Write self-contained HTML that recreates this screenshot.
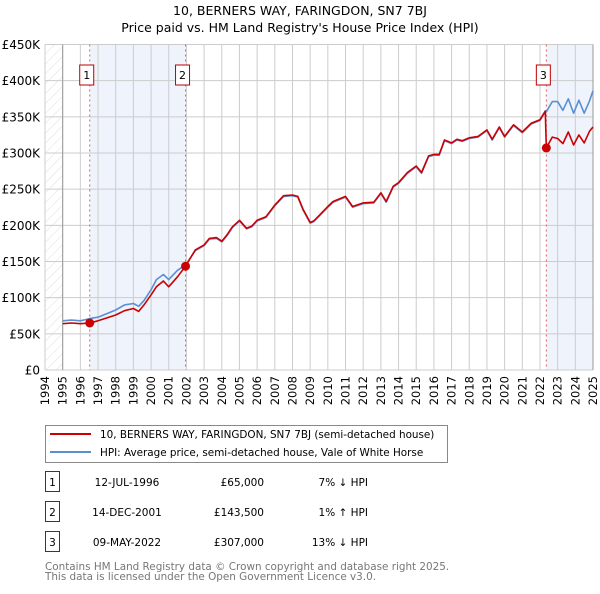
<!DOCTYPE html>
<html><head><meta charset="utf-8">
<style>
body{margin:0;background:#fff;font-family:"DejaVu Sans","Liberation Sans",sans-serif;}
svg text{font-family:"DejaVu Sans","Liberation Sans",sans-serif;}
</style></head>
<body>
<svg id="chart" width="600" height="590" xmlns="http://www.w3.org/2000/svg">
<defs><pattern id="hatch" width="7" height="7" patternUnits="userSpaceOnUse" patternTransform="rotate(45)"><line x1="0" y1="0" x2="0" y2="7" stroke="#ddd" stroke-width="1"/></pattern></defs>
<text x="300" y="15" text-anchor="middle" font-size="12.5">10, BERNERS WAY, FARINGDON, SN7 7BJ</text>
<text x="300" y="32" text-anchor="middle" font-size="12.5">Price paid vs. HM Land Registry's House Price Index (HPI)</text>
<g id="plot"></g>
<g>
<rect x="45.5" y="425.5" width="402" height="37" fill="#fff" stroke="#888"/>
<line x1="50" y1="434" x2="91" y2="434" stroke="#cc0000" stroke-width="2"/>
<text x="100" y="438" font-size="10.4">10, BERNERS WAY, FARINGDON, SN7 7BJ (semi-detached house)</text>
<line x1="50" y1="452" x2="91" y2="452" stroke="#5b8fd4" stroke-width="2"/>
<text x="100" y="456" font-size="10.4">HPI: Average price, semi-detached house, Vale of White Horse</text>
</g>
<g id="table" font-size="10.5"></g>
<text x="45" y="570" font-size="10.4" fill="#777">Contains HM Land Registry data © Crown copyright and database right 2025.</text>
<text x="45" y="580" font-size="10.4" fill="#777">This data is licensed under the Open Government Licence v3.0.</text>
</svg>
<script>
const years=[1995,1995.5,1996,1996.53,1997,1997.5,1998,1998.5,1999,1999.3,1999.6,2000,2000.3,2000.7,2001,2001.5,2001.95,2002.5,2003,2003.3,2003.7,2004,2004.3,2004.6,2005,2005.4,2005.7,2006,2006.5,2007,2007.5,2008,2008.3,2008.6,2009,2009.2,2009.6,2010,2010.3,2011,2011.4,2012,2012.6,2013,2013.3,2013.7,2014,2014.5,2015,2015.3,2015.7,2016,2016.3,2016.6,2017,2017.3,2017.6,2018,2018.5,2019,2019.3,2019.7,2020,2020.5,2021,2021.5,2022,2022.3,2022.36,2022.7,2023,2023.3,2023.6,2023.9,2024.2,2024.5,2024.8,2025];
const hpi=[68000,69000,68000,71000,73000,78000,83000,90000,92000,88000,96000,111000,125000,132000,125000,138000,145000,165000,172000,181000,182000,177000,186000,197000,206000,195000,198000,206000,211000,227000,240000,241000,239000,221000,203000,205000,215000,225000,232000,239000,225000,230000,231000,244000,232000,253000,258000,272000,281000,272000,295000,297000,297000,317000,313000,318000,316000,320000,322000,331000,318000,335000,322000,338000,328000,340000,345000,357000,357000,371000,371000,359000,375000,355000,373000,355000,372000,386000];
const price=[64000,65000,64000,65000,68000,72000,76000,82000,85000,81000,90000,104000,115000,123000,115000,129000,143500,166000,173000,182000,183000,178000,187000,198000,207000,196000,199000,207000,212000,228000,241000,242000,240000,222000,204000,206000,216000,226000,233000,240000,226000,231000,232000,245000,233000,254000,259000,273000,282000,273000,296000,298000,298000,318000,314000,319000,317000,321000,323000,332000,319000,336000,323000,339000,329000,341000,346000,358000,307000,322000,320000,313000,329000,311000,325000,314000,330000,336000];
const yTicks=[0,50000,100000,150000,200000,250000,300000,350000,400000,450000];
const yTickLabels=["£0","£50K","£100K","£150K","£200K","£250K","£300K","£350K","£400K","£450K"];
const saleYears=[1996.53,2001.95,2022.36];
const salePrices=[65000,143500,307000];
const saleDates=["12-JUL-1996","14-DEC-2001","09-MAY-2022"];
const salePriceLabels=["£65,000","£143,500","£307,000"];
const saleDiffs=["7% ↓ HPI","1% ↑ HPI","13% ↓ HPI"];

const NS="http://www.w3.org/2000/svg";
const X0=45,X1=593,Y0=370,Y1=44.5;
const x=y=>X0+(y-1994)/31*(X1-X0);
const yv=v=>Y0-v/450000*(Y0-Y1);
const plot=document.getElementById('plot');
function mk(tag,attrs,parent){const e=document.createElementNS(NS,tag);for(const k in attrs)e.setAttribute(k,attrs[k]);(parent||plot).appendChild(e);return e;}
let s1=mk('rect',{x:x(saleYears[0]),y:Y1,width:x(saleYears[1])-x(saleYears[0]),height:Y0-Y1,fill:'#eef3fc'});


let s2=mk('rect',{x:x(saleYears[2]),y:Y1,width:x(2025)-x(saleYears[2]),height:Y0-Y1,fill:'#eef3fc'});


let h=mk('rect',{x:X0,y:Y1,width:x(1995)-X0,height:Y0-Y1,fill:'url(#hatch)'});


for(let yr=1994;yr<=2025;yr++){
 let l=mk('line',{x1:x(yr),x2:x(yr),y1:Y1,y2:Y0,stroke:'#ccc','stroke-width':1});
 
 
 let t=mk('text',{transform:`translate(${x(yr)+4},${Y0+6}) rotate(-90)`,'text-anchor':'end','font-size':11.5});
 t.textContent=yr;
 
 
}
yTicks.forEach((v,i)=>{
 let l=mk('line',{x1:X0,x2:X1,y1:yv(v),y2:yv(v),stroke:'#ccc','stroke-width':1});
 
 
 let t=mk('text',{x:40,y:yv(v)+4.5,'text-anchor':'end','font-size':12});
 t.textContent=yTickLabels[i];
 
 
});
let ax=mk('line',{x1:x(1995),x2:x(1995),y1:Y1,y2:Y0,stroke:'#999'});


let ax2=mk('line',{x1:X1,x2:X1,y1:Y1,y2:Y0,stroke:'#999'});


saleYears.forEach((sy,i)=>{
 let l=mk('line',{x1:x(sy),x2:x(sy),y1:Y1,y2:Y0,stroke:'#e06060','stroke-dasharray':'2,3'});
 
 
 let g=mk('g',{});
 
 
 mk('rect',{x:x(sy)-10,y:65,width:14,height:20,fill:'#fff',stroke:'#b00'},g);
 let t=mk('text',{x:x(sy)-3,y:79,'text-anchor':'middle','font-size':11},g);
 t.textContent=i+1;
});
const line=(vals,col,name)=>{
 let p=mk('path',{d:years.map((yr,i)=>(i?'L':'M')+x(yr).toFixed(1)+','+yv(vals[i]).toFixed(1)).join(''),fill:'none',stroke:col,'stroke-width':1.6,'stroke-linejoin':'round'});
 
 
};
line(hpi,'#5b8fd4','hpi-line');
line(price,'#cc0000','price-line');
saleYears.forEach((sy,i)=>{
 let c=mk('circle',{cx:x(sy),cy:yv(salePrices[i]),r:4.5,fill:'#cc0000'});
 
 
});
const tb=document.getElementById('table');
saleDates.forEach((d,i)=>{
 const y=483+i*30;
 let r=mk('rect',{x:45.5,y:y-11.5,width:14,height:20,fill:'#fff',stroke:'#b00'},tb);
 
 
 let n=mk('text',{x:52.5,y:y+3,'text-anchor':'middle'},tb);n.textContent=i+1;
 
 
 let a=mk('text',{x:127,y:y+3,'text-anchor':'middle'},tb);a.textContent=d;
 
 
 let b=mk('text',{x:264,y:y+3,'text-anchor':'end'},tb);b.textContent=salePriceLabels[i];
 
 
 let c=mk('text',{x:368,y:y+3,'text-anchor':'end'},tb);c.textContent=saleDiffs[i];
 
 
});
</script>
</body></html>
